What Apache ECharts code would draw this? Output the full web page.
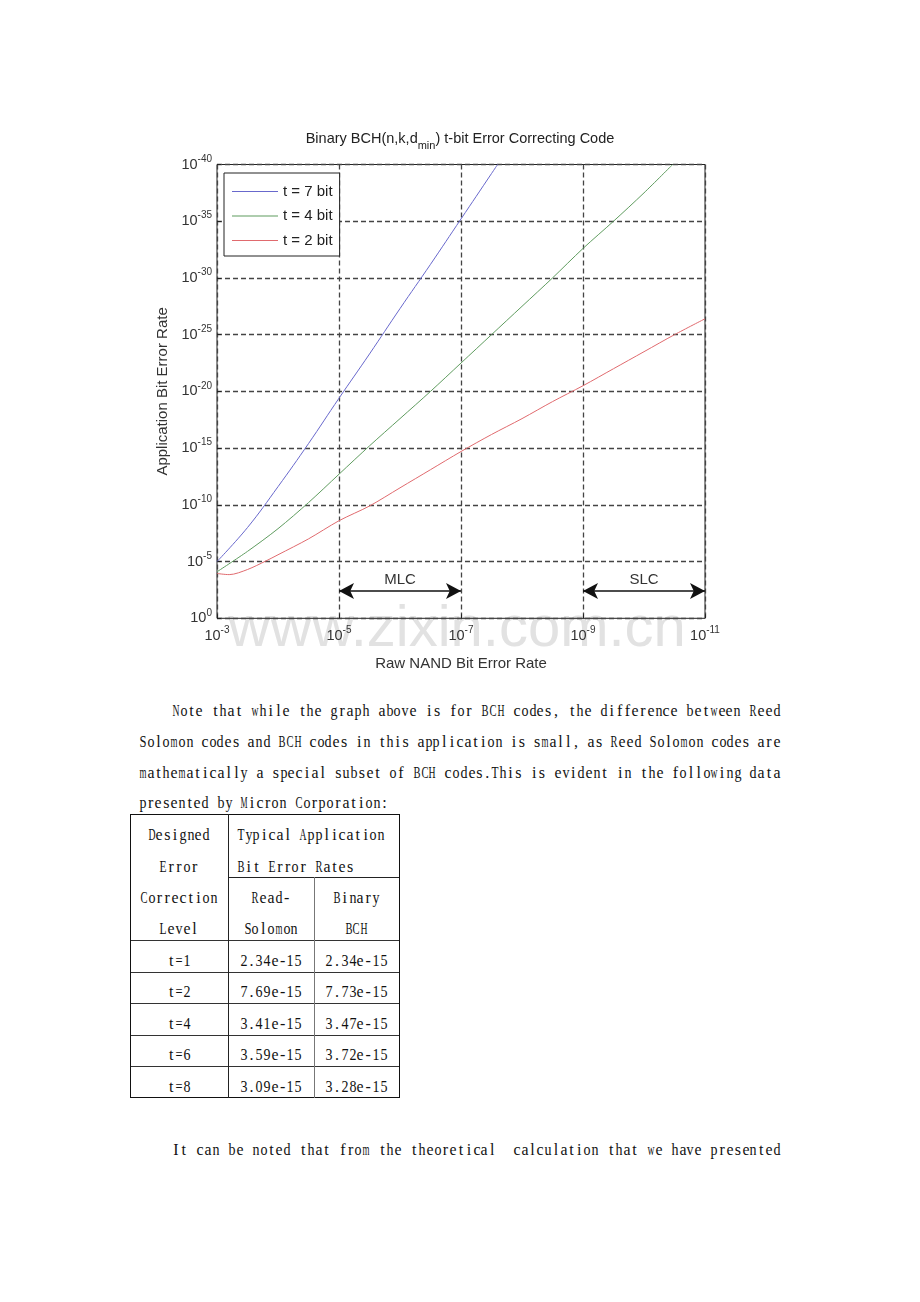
<!DOCTYPE html>
<html><head><meta charset="utf-8">
<script src="https://cdn.jsdelivr.net/npm/echarts@6/dist/echarts.min.js"></script>
<style>
html,body{margin:0;padding:0;background:#fff;width:920px;height:1302px;overflow:hidden;}
#chart{position:absolute;left:0;top:0;width:920px;height:690px;}
.t{position:absolute;font-family:'Liberation Serif','DejaVu Serif',serif;font-size:16px;line-height:20px;height:20px;color:#111;white-space:nowrap;}
.c{display:inline-block;position:relative;height:20px;vertical-align:top;}
.g{position:absolute;left:50%;top:0;}
.ln{position:absolute;}
</style></head><body>
<div id="chart"></div>
<div id="doc"></div>
<script>
// ---------- chart data (exponents: x = -log10(raw BER), y = -log10(application BER)) ----------
const seriesNames = ['t = 7 bit', 't = 4 bit', 't = 2 bit'];
const t7Exp = [3, 3.5, 4, 4.5, 5, 5.5, 6, 6.5, 7, 7.5, 7.6];
const t7Ber = [5.0, 8.0, 11.6, 15.4, 19.4, 23.3, 27.3, 31.2, 35.2, 39.2, 40];
const t4Exp = [3, 3.5, 4, 4.5, 5, 5.5, 6, 6.5, 7, 7.5, 8, 8.5, 9, 9.5, 10, 10.47];
const t4Ber = [4.1, 5.9, 7.9, 10.2, 12.7, 15.2, 17.6, 20.0, 22.5, 25.0, 27.5, 30.0, 32.6, 35.0, 37.5, 40];
const t2Exp = [3, 3.2, 3.5, 3.8, 4, 4.5, 5, 5.5, 6, 6.5, 7, 7.5, 8, 8.5, 9, 9.5, 10, 10.5, 11];
const t2Ber = [3.95, 3.85, 4.3, 5.05, 5.6, 7.0, 8.6, 9.9, 11.5, 13.1, 14.7, 16.2, 17.6, 19.1, 20.5, 22.0, 23.5, 25.0, 26.4];
const xTickExps = [3, 5, 7, 9, 11];
const yTickExps = [0, 5, 10, 15, 20, 25, 30, 35, 40];
const regionNames = ['MLC', 'SLC'];
const regionStart = [5, 9];
const regionEnd = [7, 11];
const regionLevel = 2.4;

// ---------- document text ----------
const paraLines = [
  'Note that while the graph above is for BCH codes, the difference between Reed',
  'Solomon codes and BCH codes in this application is small, as Reed Solomon codes are',
  'mathematically a special subset of BCH codes.This is evident in the following data',
  'presented by Micron Corporation:'
];
const headCol1 = ['Designed', 'Error', 'Correction', 'Level'];
const headSpan = ['Typical Application', 'Bit Error Rates'];
const headRS = ['Read-', 'Solomon'];
const headBCH = ['Binary', 'BCH'];
const tableLevels = ['t=1', 't=2', 't=4', 't=6', 't=8'];
const tableRS = ['2.34e-15', '7.69e-15', '3.41e-15', '3.59e-15', '3.09e-15'];
const tableBCH = ['2.34e-15', '7.73e-15', '3.47e-15', '3.72e-15', '3.28e-15'];
const closingLine = 'It can be noted that from the theoretical  calculation that we have presented';

// ---------- chart ----------
const FF = "'Liberation Sans', Arial, sans-serif";
const colors = ['#6868cc', '#5f9c5f', '#e06a6e'];
const supFmt = v => '{b|10}{s|' + (v === 0 ? '0' : '-' + v) + '}';
const richLbl = {
  b: {fontSize: 14.5, color: '#333', fontFamily: FF},
  s: {fontSize: 10, color: '#333', fontFamily: FF, padding: [0, 0, 11, 0]}
};
const pairs = (xs, ys) => xs.map((x, i) => [x, ys[i]]);
const gridLine = {show: true, lineStyle: {color: '#444', width: 1.3, type: [5, 3]}};
const lineIcon = 'path://M0,0 L46,0 L46,1 L0,1 Z';

const chart = echarts.init(document.getElementById('chart'), null, {renderer: 'canvas'});
chart.setOption({
  animation: false,
  backgroundColor: 'transparent',
  title: {
    text: '{a|Binary BCH(n,k,d}{s|min}{a|) t-bit Error Correcting Code}',
    left: 'center', top: 126, padding: 0,
    textStyle: {fontWeight: 'normal', rich: {
      a: {fontSize: 14.5, color: '#222', fontFamily: FF, fontWeight: 'normal'},
      s: {fontSize: 11, color: '#222', fontFamily: FF, fontWeight: 'normal', padding: [14, 0, 0, 0]}
    }}
  },
  graphic: [{
    type: 'text', x: 457, y: 630, z: -1, silent: true,
    style: {text: 'www.zixin.com.cn', font: "58px 'Liberation Sans', Arial", fill: '#e2e2e2', align: 'center', verticalAlign: 'middle'}
  }],
  legend: {
    orient: 'vertical', left: 224, top: 173,
    itemWidth: 46, itemHeight: 1, itemGap: 9.5,
    padding: [11, 7, 8, 8],
    borderColor: '#222', borderWidth: 1, backgroundColor: '#fff',
    textStyle: {fontSize: 15, color: '#222', fontFamily: FF},
    data: seriesNames.map(n => ({name: n, icon: lineIcon}))
  },
  grid: {left: 217, right: 215, top: 164.5, bottom: 71.7, show: true, borderColor: '#222', borderWidth: 1, backgroundColor: 'transparent'},
  xAxis: {
    type: 'value', min: xTickExps[0], max: xTickExps[xTickExps.length - 1], interval: 2,
    name: 'Raw NAND Bit Error Rate', nameLocation: 'middle', nameGap: 38,
    nameTextStyle: {fontSize: 15, color: '#333', fontFamily: FF},
    axisLine: {show: false},
    axisTick: {show: true, inside: true, length: 4, lineStyle: {color: '#222'}},
    axisLabel: {margin: 7, formatter: supFmt, rich: richLbl},
    splitLine: gridLine
  },
  yAxis: {
    type: 'value', min: yTickExps[0], max: yTickExps[yTickExps.length - 1], interval: 5,
    name: 'Application Bit Error Rate', nameLocation: 'middle', nameGap: 32,
    nameTextStyle: {fontSize: 15, color: '#333', fontFamily: FF},
    axisLine: {show: false},
    axisTick: {show: true, inside: true, length: 4, lineStyle: {color: '#222'}},
    axisLabel: {margin: 5, formatter: supFmt, rich: richLbl},
    splitLine: gridLine
  },
  series: [
    {name: seriesNames[0], type: 'line', data: pairs(t7Exp, t7Ber), symbol: 'none', smooth: 0.4, lineStyle: {width: 1, color: colors[0]}, itemStyle: {color: colors[0]}},
    {name: seriesNames[1], type: 'line', data: pairs(t4Exp, t4Ber), symbol: 'none', smooth: 0.3, lineStyle: {width: 1, color: colors[1]}, itemStyle: {color: colors[1]}},
    {name: seriesNames[2], type: 'line', data: pairs(t2Exp, t2Ber), symbol: 'none', smooth: 0.3, lineStyle: {width: 1, color: colors[2]}, itemStyle: {color: colors[2]},
      markLine: {
        silent: true, symbol: ['arrow', 'arrow'], symbolSize: [12, 15], precision: 4,
        lineStyle: {color: '#111', width: 1.5, type: 'solid'},
        label: {show: true, position: 'middle', formatter: '{b}', fontSize: 15, color: '#333', fontFamily: FF, distance: 4},
        emphasis: {disabled: true},
        data: regionNames.map((n, i) => [{name: n, coord: [regionStart[i], regionLevel]}, {coord: [regionEnd[i], regionLevel]}])
      }}
  ]
});

// ---------- document (monospaced cells with serif glyphs, like SimSun) ----------
const doc = document.getElementById('doc');
const CELL = 7.8, GMAX = 7.0;
const mctx = document.createElement('canvas').getContext('2d');
mctx.font = "16px 'Liberation Serif'";
function txt(s, x, yc, align, target) {
  const d = document.createElement('div');
  d.className = 't';
  d.style.top = (yc - 10) + 'px';
  const nSp = (s.match(/ /g) || []).length;
  let spW = CELL;
  if (target && nSp) spW = CELL + (target - s.length * CELL) / nSp;
  const total = (s.length - nSp) * CELL + nSp * spW;
  d.style.left = (align === 'center' ? x - total / 2 : x) + 'px';
  for (const ch of s) {
    const c = document.createElement('span');
    c.className = 'c';
    c.style.width = (ch === ' ' ? spW : CELL) + 'px';
    if (ch !== ' ') {
      const g = document.createElement('span');
      g.className = 'g';
      g.textContent = ch;
      const w = mctx.measureText(ch).width;
      const k = w > GMAX ? GMAX / w : 1;
      g.style.transform = 'translateX(-50%) scaleX(' + k.toFixed(3) + ')';
      c.appendChild(g);
    }
    d.appendChild(c);
  }
  doc.appendChild(d);
}
function hline(x1, x2, y, c) {
  const d = document.createElement('div'); d.className = 'ln';
  d.style.left = x1 + 'px'; d.style.top = y + 'px'; d.style.width = (x2 - x1 + 1) + 'px'; d.style.height = '1px'; d.style.background = c;
  doc.appendChild(d);
}
function vline(x, y1, y2, c) {
  const d = document.createElement('div'); d.className = 'ln';
  d.style.left = x + 'px'; d.style.top = y1 + 'px'; d.style.width = '1px'; d.style.height = (y2 - y1 + 1) + 'px'; d.style.background = c;
  doc.appendChild(d);
}

const paraY = [711, 742, 773, 803];
const paraX = [172, 139, 139, 139];
const paraEnd = [781, 781, 781, null];
paraLines.forEach((s, i) => txt(s, paraX[i], paraY[i], 'left', paraEnd[i] ? paraEnd[i] - paraX[i] : null));

// table grid
const colX = [130, 228, 314, 399];
const rowY = [814, 877, 940, 972, 1003, 1035, 1066, 1097];
hline(colX[0], colX[3], rowY[0], '#111');
hline(colX[1], colX[3], rowY[1], '#222');
for (let r = 2; r < rowY.length; r++) hline(colX[0], colX[3], rowY[r], r === rowY.length - 1 ? '#111' : '#333');
vline(colX[0], rowY[0], rowY[7], '#111');
vline(colX[1], rowY[0], rowY[7], '#222');
vline(colX[2], rowY[1], rowY[7], '#777');
vline(colX[3], rowY[0], rowY[7], '#111');

const headY = [835, 866.5, 897.5, 928.5];
headCol1.forEach((s, i) => txt(s, 179, headY[i], 'center'));
headSpan.forEach((s, i) => txt(s, 237, headY[i], 'left'));
headRS.forEach((s, i) => txt(s, 271, headY[i + 2], 'center'));
headBCH.forEach((s, i) => txt(s, 356.5, headY[i + 2], 'center'));
const bodyY = [960.5, 992, 1023.5, 1055, 1086.5];
tableLevels.forEach((s, i) => {
  txt(s, 179, bodyY[i], 'center');
  txt(tableRS[i], 271, bodyY[i], 'center');
  txt(tableBCH[i], 356.5, bodyY[i], 'center');
});

txt(closingLine, 172, 1150, 'left', 609);
</script>
</body></html>
